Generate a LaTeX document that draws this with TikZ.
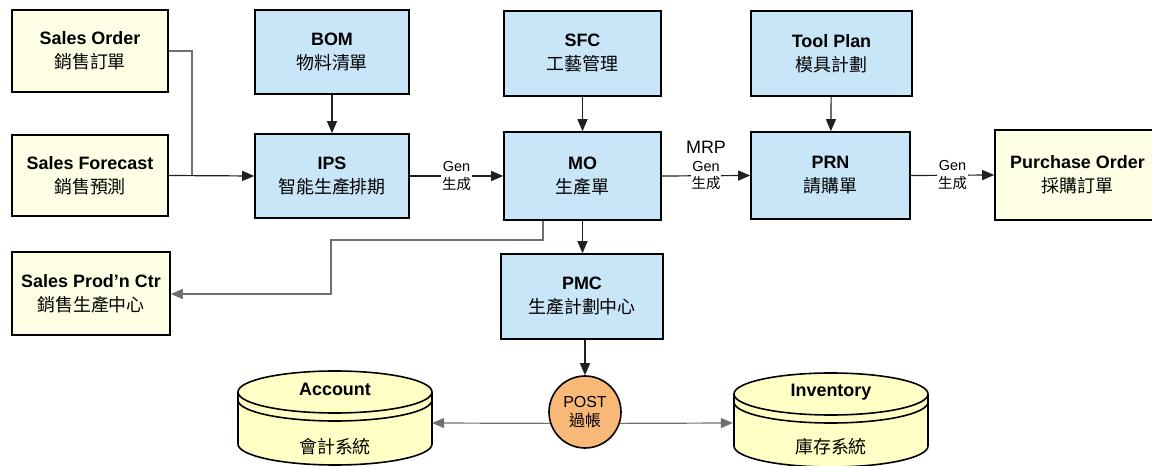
\documentclass[tikz,border=0pt]{standalone}
\usepackage{fontspec}
\setmainfont{Liberation Sans}
\newfontfamily\cjk{Noto Sans CJK TC}
\usetikzlibrary{arrows.meta,calc}
\definecolor{boxblue}{HTML}{C8E6F8}
\definecolor{boxcream}{HTML}{FFFFE6}
\definecolor{cylyellow}{HTML}{FFFFC6}
\definecolor{postorange}{HTML}{F8B878}
\definecolor{linedark}{HTML}{202020}
\definecolor{linegray}{HTML}{707070}
\begin{document}
\begin{tikzpicture}[x=1bp,y=-1bp,
  base/.style={draw=black,line width=1.6bp,align=center,inner sep=0pt,
    font=\fontsize{18}{24}\selectfont},
  bluebox/.style={base,fill=boxblue},
  creambox/.style={base,fill=boxcream},
  arr/.style={draw=linedark,line width=1.2bp,-{Triangle[length=12bp,width=10bp]}},
  garr/.style={draw=linegray,line width=1.2bp,-{Triangle[length=12bp,width=10bp]}},
  gline/.style={draw=linegray,line width=1.2bp},
  lbl/.style={fill=white,inner sep=1bp,align=center,font=\fontsize{14.5}{17.5}\selectfont},
  cyltext/.style={inner sep=0pt,font=\fontsize{18}{24}\selectfont},
]
\useasboundingbox (0,0) rectangle (1152,466);

% boxes
\node[creambox,minimum width=156bp,minimum height=82bp] (so) at (90,51)
  {\textbf{Sales Order}\\{\cjk 銷售訂單}};
\node[creambox,minimum width=156bp,minimum height=81bp] (sf) at (90,175.5)
  {\textbf{Sales Forecast}\\{\cjk 銷售預測}};
\node[bluebox,minimum width=154bp,minimum height=84bp] (bom) at (332,52)
  {\textbf{BOM}\\{\cjk 物料清單}};
\node[bluebox,minimum width=154bp,minimum height=84bp] (ips) at (332,176)
  {\textbf{IPS}\\{\cjk 智能生產排期}};
\node[bluebox,minimum width=157bp,minimum height=85bp] (sfc) at (582.5,53.5)
  {\textbf{SFC}\\{\cjk 工藝管理}};
\node[bluebox,minimum width=157bp,minimum height=88bp] (mo) at (582.5,176)
  {\textbf{MO}\\{\cjk 生產單}};
\node[bluebox,minimum width=161bp,minimum height=85bp] (tp) at (831.5,53.5)
  {\textbf{Tool Plan}\\{\cjk 模具計劃}};
\node[bluebox,minimum width=159bp,minimum height=87bp] (prn) at (830.5,175.5)
  {\textbf{PRN}\\{\cjk 請購單}};
\node[creambox,minimum width=165bp,minimum height=90bp] (po) at (1077.5,175)
  {\textbf{Purchase Order}\\{\cjk 採購訂單}};
\node[creambox,minimum width=158bp,minimum height=83bp] (spc) at (91,293.5)
  {\textbf{Sales Prod’n Ctr}\\{\cjk 銷售生產中心}};
\node[bluebox,minimum width=162bp,minimum height=85bp] (pmc) at (582,296.5)
  {\textbf{PMC}\\{\cjk 生產計劃中心}};

% cylinders
\foreach \cx/\yt in {335/392, 831/394}{
  \fill[cylyellow] (\cx-97,\yt) -- (\cx-97,\yt+52)
     arc[start angle=180,end angle=360,x radius=97bp,y radius=21bp]
     -- (\cx+97,\yt) arc[start angle=0,end angle=180,x radius=97bp,y radius=21bp] -- cycle;
  \draw[line width=1.6bp] (\cx-97,\yt) -- (\cx-97,\yt+52)
     arc[start angle=180,end angle=360,x radius=97bp,y radius=21bp]
     -- (\cx+97,\yt);
  \draw[line width=1.6bp] (\cx,\yt) ellipse[x radius=97bp,y radius=21bp];
  \draw[line width=1.6bp] (\cx-97,\yt+8)
     arc[start angle=180,end angle=360,x radius=97bp,y radius=21bp];
}
\node[minimum width=194bp,minimum height=96bp,inner sep=0pt] (acc) at (335,418) {};
\node[minimum width=196bp,minimum height=96bp,inner sep=0pt] (inv) at (831,420) {};
\node[cyltext] (acct) at (335,389) {\textbf{Account}};
\node[cyltext] (accc) at (335,447) {\cjk 會計系統};
\node[cyltext] (invt) at (831,392) {\textbf{Inventory}};
\node[cyltext] (invc) at (831,447) {\cjk 庫存系統};

% POST
\node[circle,draw=black,line width=1.6bp,fill=postorange,minimum size=72bp,
  inner sep=0pt,align=center,font=\fontsize{16}{19}\selectfont] (post) at (585,412)
  {POST\\{\cjk 過帳}};

% coordinates
\coordinate (jn) at (192,176);
\coordinate (m1) at (543,240);
\coordinate (m2) at (331,294);
\coordinate (py) at (0,423);

% connectors
\draw[gline] (so.east) -| (jn);
\draw[arr] (sf.east) -- (ips.west);
\draw[arr] (bom) -- (ips);
\draw[arr] (ips.east) -- node[lbl]{Gen\\{\cjk 生成}} (mo.west);
\draw[arr] (sfc) -- (mo);
\draw[arr] (mo.east) -- node[lbl]{Gen\\{\cjk 生成}} (prn.west);
\node[font=\fontsize{18}{20}\selectfont,inner sep=0pt] (mrp) at (706,147) {MRP};
\draw[arr] (tp) -- (prn);
\draw[arr] (prn.east) -- node[lbl]{Gen\\{\cjk 生成}} (po.west);
\draw[arr] (mo.south) -- (mo.south |- pmc.north);
\draw[garr] (mo.south -| m1) -- (m1) -| (m2) -- (spc.east |- m2);
\draw[arr] (pmc.south -| post) -- (post.north);
\draw[garr] (post.198) -- (acc.east |- py);
\draw[garr] (post.-18) -- (inv.west |- py);
\end{tikzpicture}
\end{document}
